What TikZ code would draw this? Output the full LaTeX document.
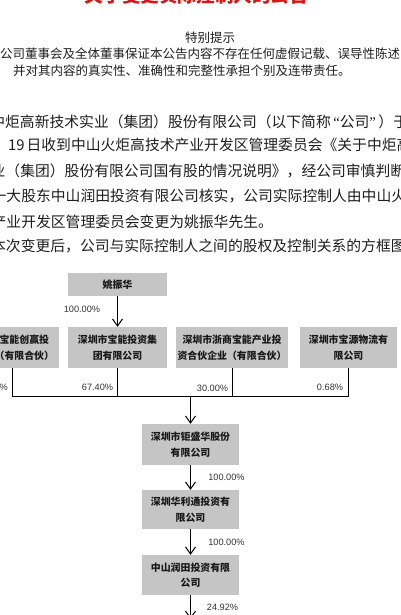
\documentclass[tikz,border=0pt]{standalone}
\usepackage{fontspec}
\setmainfont{Liberation Sans}
\newfontfamily\cjk{Noto Sans CJK SC}
\newfontfamily\latinq{Liberation Serif}
\usetikzlibrary{arrows.meta}
\definecolor{boxgray}{RGB}{197,197,197}
\definecolor{titlered}{RGB}{222,20,20}
\definecolor{txt}{RGB}{30,30,30}
\tikzset{
  para/.style={anchor=west, inner sep=0, text=txt, font=\cjk\fontsize{14.8bp}{16bp}\selectfont},
  hint/.style={inner sep=0, text=txt, font=\cjk\fontsize{12.5bp}{14bp}\selectfont},
  box/.style={fill=boxgray, inner sep=0, minimum width=99bp, minimum height=41bp, align=center, text=black!90, font=\cjk\bfseries\fontsize{9.9bp}{15.5bp}\selectfont},
  pct/.style={inner sep=0, text=black!80, font=\fontsize{9.2bp}{10bp}\selectfont},
  arr/.style={-{Straight Barb[length=7bp,width=10bp]}, line width=1bp},
  ln/.style={line width=1bp}
}
\begin{document}
\begin{tikzpicture}[x=1bp,y=-1bp]
\useasboundingbox (0,0) rectangle (400,615);
\clip (0,0) rectangle (400,615);
% header
\node[anchor=base, inner sep=0, text=titlered, font=\cjk\bfseries\fontsize{18.6bp}{20bp}\selectfont] (title) at (196.5,3) {关于变更实际控制人的公告};
\node[hint] (tb) at (210,38) {特别提示};
\node[hint, anchor=west] (h1) at (0,54) {公司董事会及全体董事保证本公告内容不存在任何虚假记载、误导性陈述};
\node[hint, anchor=west] (h2) at (13,71) {并对其内容的真实性、准确性和完整性承担个别及连带责任。};
% paragraph
\node[para] (l1) at (-9.8,121.5) {中炬高新技术实业（集团）股份有限公司（以下简称{\latinq\,“}公司{\latinq ”\,}）于};
\node[para] (l2) at (8,145) {19\hspace{2bp}日收到中山火炬高技术产业开发区管理委员会《关于中炬高};
\node[para] (l3) at (-9.5,170.5) {业（集团）股份有限公司国有股的情况说明》，经公司审慎判断};
\node[para] (l4) at (-8.5,196) {一大股东中山润田投资有限公司核实，公司实际控制人由中山火};
\node[para] (l5) at (-8.5,221.5) {产业开发区管理委员会变更为姚振华先生。};
\node[para] (l6) at (-9,246.5) {本次变更后，公司与实际控制人之间的股权及控制关系的方框图};
% boxes
\node[box, minimum height=23bp] (yao) at (117.5,284.5) {姚振华};
\node[box] (b1) at (9.5,347.5) {深圳市宝能创赢投\\资企业（有限合伙）};
\node[box] (b2) at (117.5,347.5) {深圳市宝能投资集\\团有限公司};
\node[box, minimum width=112bp] (b3) at (232,347.5) {深圳市浙商宝能产业投\\资合伙企业（有限合伙）};
\node[box, minimum width=97bp] (b4) at (348.5,347.5) {深圳市宝源物流有\\限公司};
\node[box, minimum width=97bp] (jsh) at (190.5,444.5) {深圳市钜盛华股份\\有限公司};
\node[box, minimum width=97bp, minimum height=39bp] (hlt) at (190.5,509.5) {深圳华利通投资有\\限公司};
\node[box, minimum width=97bp, minimum height=40bp] (rt) at (190.5,575) {中山润田投资有限\\公司};
% connectors
\coordinate (j1) at (12,396);
\coordinate (j4) at (348,396);
\coordinate (jm) at (190.5,396);
\coordinate (endp) at (190.5,619);
\draw[arr] (yao) -- (b2);
\draw[ln] (b1.south -| j1) -- (j1) -- (j4) -- (b4.south -| j4);
\draw[ln] (b2.south) -- (b2.south |- jm);
\draw[ln] (b3.south) -- (b3.south |- jm);
\draw[arr] (jm) -- (jsh);
\draw[arr] (jsh) -- (hlt);
\draw[arr] (hlt) -- (rt);
\draw[arr] (rt) -- (endp);
% labels
\node[pct] (p0) at (82,309) {100.00\%};
\node[pct, anchor=east] (p1) at (8,387) {1.92\%};
\node[pct] (p2) at (97.5,387) {67.40\%};
\node[pct] (p3) at (212.5,388.5) {30.00\%};
\node[pct] (p4) at (330,387) {0.68\%};
\node[pct] (p5) at (226.5,477) {100.00\%};
\node[pct] (p6) at (226.5,542) {100.00\%};
\node[pct] (p7) at (222.5,607) {24.92\%};
\end{tikzpicture}
\end{document}
